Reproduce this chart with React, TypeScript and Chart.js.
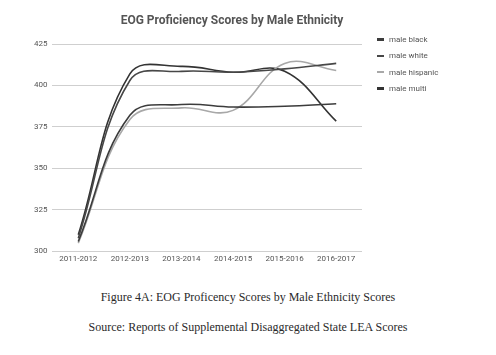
import React, { useEffect, useRef } from "react";
import { Chart, registerables } from "chart.js";

Chart.register(...registerables);

const years = ["2011-2012", "2012-2013", "2013-2014", "2014-2015", "2015-2016", "2016-2017"];
const maleBlack = [306, 382, 388.5, 387, 387.5, 389];
const maleWhite = [308, 403, 408.5, 408, 410, 413.3];
const maleHispanic = [305, 379.5, 386.5, 385, 413.3, 409];
const maleMulti = [310, 407, 411.5, 408, 408.6, 378.5];
const yTicks = [300, 325, 350, 375, 400, 425];

const chartTitle = "EOG Proficiency Scores by Male Ethnicity";
const seriesNames = ["male black", "male white", "male hispanic", "male multi"];
const seriesColors = ["#3c3c3c", "#474747", "#a8a8a8", "#333333"];

export default function App() {
  const canvasRef = useRef<HTMLCanvasElement | null>(null);

  useEffect(() => {
    const ctx = canvasRef.current;
    if (!ctx) return;
    const values = [maleBlack, maleWhite, maleHispanic, maleMulti];
    const chart = new Chart(ctx, {
      type: "line",
      data: {
        labels: years,
        datasets: seriesNames.map((name, i) => ({
          label: name,
          data: values[i],
          borderColor: seriesColors[i],
          backgroundColor: seriesColors[i],
          borderWidth: 1.6,
          pointRadius: 0,
          tension: 0.4,
          fill: false,
        })),
      },
      options: {
        animation: false,
        responsive: false,
        maintainAspectRatio: false,
        layout: { padding: { left: 29, right: 102, top: 44, bottom: 3 } },
        plugins: {
          legend: { display: false },
          tooltip: { enabled: false },
          title: { display: false },
        },
        scales: {
          x: {
            offset: true,
            grid: { display: false, drawTicks: false },
            border: { display: false },
            ticks: {
              color: "#555555",
              font: { family: "Roboto", size: 8 },
              padding: 3,
              maxRotation: 0,
              autoSkip: false,
            },
          },
          y: {
            min: yTicks[0],
            max: yTicks[yTicks.length - 1],
            afterBuildTicks: (scale: any) => {
              scale.ticks = yTicks.map((v) => ({ value: v }));
            },
            grid: { color: "#cfcfcf", drawTicks: false, lineWidth: 1 },
            border: { display: false },
            ticks: {
              color: "#555555",
              font: { family: "Roboto", size: 8 },
              padding: 5,
            },
          },
        },
      },
    });
    return () => chart.destroy();
  }, []);

  return (
    <div style={{ position: "fixed", left: 0, top: 0, width: 496, height: 355, background: "#ffffff", overflow: "hidden" }}>
      <canvas ref={canvasRef} width={464} height={270} style={{ position: "absolute", left: 0, top: 0, width: 464, height: 270 }} />
      <div style={{ position: "absolute", left: 0, top: 11, width: 464, textAlign: "center", fontFamily: "Roboto", fontWeight: "bold", fontSize: 12, lineHeight: "18px", color: "#555555", whiteSpace: "nowrap" }}>
        {chartTitle}
      </div>
      {seriesNames.map((name, i) => (
        <div
          key={name}
          style={{
            position: "absolute",
            left: 377,
            top: 34 + i * 16.3,
            height: 11,
            display: "flex",
            alignItems: "center",
            fontFamily: "Roboto",
            fontSize: 8,
            color: "#555555",
            whiteSpace: "nowrap",
          }}
        >
          <span style={{ display: "inline-block", width: 7, height: 2.5, background: seriesColors[i], marginRight: 5 }} />
          {name}
        </div>
      ))}
      <div style={{ position: "absolute", left: 0, width: 496, top: 289, textAlign: "center", fontFamily: "'Liberation Serif', 'Times New Roman', serif", fontSize: 12, lineHeight: "16px", color: "#2a2a2a" }}>
        Figure 4A: EOG Proficency Scores by Male Ethnicity Scores
      </div>
      <div style={{ position: "absolute", left: 0, width: 496, top: 319, textAlign: "center", fontFamily: "'Liberation Serif', 'Times New Roman', serif", fontSize: 12, lineHeight: "16px", color: "#2a2a2a" }}>
        Source: Reports of Supplemental Disaggregated State LEA Scores
      </div>
    </div>
  );
}
